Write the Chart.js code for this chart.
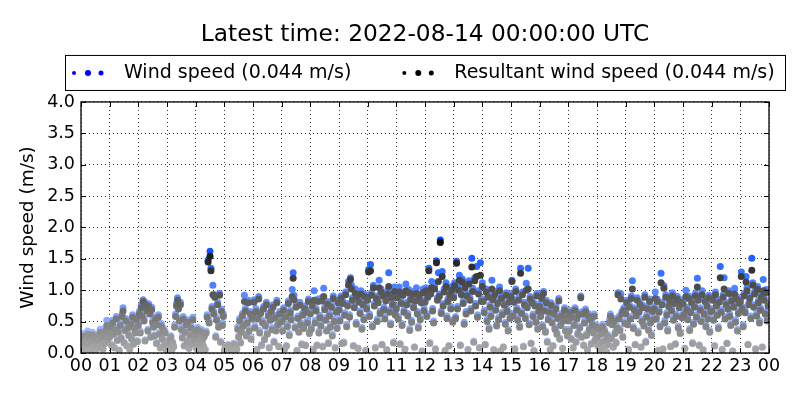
<!DOCTYPE html>
<html>
<head>
<meta charset="utf-8">
<script src="https://cdn.jsdelivr.net/npm/chart.js@4.4.0/dist/chart.umd.min.js"></script>
<style>
    html, body { margin: 0; padding: 0; background: #fff; }
</style>
</head>
<body>
<canvas id="wind-chart" width="800" height="400"></canvas>
<script>
// Wind speed scatter, one sample every 2 minutes

const titleText = 'Latest time: 2022-08-14 00:00:00 UTC';
const seriesNames = ['Wind speed (0.044 m/s)', 'Resultant wind speed (0.044 m/s)'];
const legendColors = ['#0000ff', '#000000'];
const yAxisTitle = 'Wind speed (m/s)';
const stepMinutes = 2;
const hourLabels = ['00', '01', '02', '03', '04', '05', '06', '07', '08', '09', '10', '11',
    '12', '13', '14', '15', '16', '17', '18', '19', '20', '21', '22', '23', '00'];
const yTickValues = [0, 0.5, 1.0, 1.5, 2.0, 2.5, 3.0, 3.5, 4.0];

// m/s, one row per hour
const windSpeed = [
    0.12,0.25,0.08,0.31,0.18,0.04,0.22,0.35,0.15,0.27,0.06,0.19,0.33,0.11,0.24,0.02,0.29,0.16,0.09,0.21,0.38,0.13,0.28,0.07,0.32,0.17,0.41,0.52,0.24,0.36,
    0.28,0.45,0.14,0.52,0.33,0.09,0.41,0.58,0.22,0.36,0.05,0.48,0.26,0.62,0.72,0.18,0.39,0.55,0.12,0.44,0.31,0.07,0.50,0.24,0.61,0.16,0.43,0.35,0.57,0.20,
    0.48,0.66,0.35,0.76,0.62,0.85,0.55,0.21,0.80,0.71,0.38,0.78,0.66,0.27,0.73,0.52,0.44,0.29,0.58,0.17,0.49,0.61,0.33,0.09,0.47,0.24,0.40,0.13,0.35,0.06,
    0.14,0.05,0.22,0.09,0.28,0.03,0.18,0.11,0.45,0.62,0.79,0.88,0.74,0.55,0.81,0.41,0.27,0.58,0.12,0.36,0.49,0.20,0.53,0.08,0.31,0.44,0.16,0.57,0.25,0.39,
    0.32,0.08,0.41,0.17,0.26,0.04,0.38,0.21,0.12,0.29,0.06,0.35,0.61,1.48,0.52,1.62,1.35,0.74,1.08,0.66,0.93,0.28,0.56,0.81,0.45,0.95,0.19,0.70,0.48,0.62,
    0.05,0.11,0.02,0.08,0.14,0.03,0.06,0.12,0.01,0.09,0.16,0.04,0.13,0.07,0.42,0.28,0.55,0.18,0.36,0.63,0.47,0.92,0.71,0.30,0.52,0.84,0.39,0.66,0.25,0.58,
    0.62,0.85,0.44,0.71,0.06,0.58,0.90,0.36,0.67,0.14,0.52,0.74,0.23,0.47,0.81,0.33,0.63,0.09,0.56,0.70,0.41,0.77,0.19,0.60,0.38,0.84,0.49,0.11,0.66,0.53,
    0.54,0.38,0.72,0.07,0.61,0.12,0.46,0.83,0.31,0.68,0.57,1.01,1.28,0.92,0.43,0.77,0.04,0.59,0.36,0.81,0.49,0.15,0.64,0.42,0.75,0.13,0.69,0.52,0.86,0.34,
    0.66,0.41,0.79,0.05,0.99,0.52,0.71,0.13,0.86,0.35,0.60,0.47,0.88,0.11,1.03,0.73,0.56,0.38,0.82,0.17,0.63,0.45,0.77,0.30,0.91,0.54,0.09,0.69,0.42,0.84,
    0.72,0.55,0.91,0.16,0.83,0.18,0.64,0.97,0.46,0.79,1.14,0.61,1.20,1.08,0.88,0.12,0.76,1.02,0.49,0.93,0.08,0.85,0.67,0.99,0.41,0.81,0.57,0.94,0.04,0.74,
    0.88,1.33,0.62,1.41,0.96,0.45,1.08,0.79,0.09,0.91,0.54,0.84,1.16,0.67,1.02,0.14,0.95,0.73,0.58,0.87,0.05,0.99,1.28,0.69,0.48,0.92,0.81,0.18,1.05,0.64,
    0.74,0.92,0.58,1.05,0.15,0.83,0.47,0.96,0.69,0.06,1.10,0.81,0.63,1.01,0.39,0.89,0.52,0.98,0.76,0.10,0.87,1.04,0.66,0.43,0.94,0.57,0.84,0.03,1.02,0.71,
    0.85,1.04,0.62,0.93,1.35,0.17,0.98,1.14,0.71,0.51,1.08,0.07,1.47,0.88,1.28,0.94,1.80,0.67,1.30,0.79,1.02,0.04,1.12,0.59,0.86,0.12,0.97,0.74,1.06,0.53,
    0.92,1.12,0.58,1.46,0.74,1.05,1.24,0.13,0.97,1.18,0.83,0.49,1.09,0.66,0.95,0.06,1.15,0.88,0.71,1.51,1.03,0.19,1.20,0.79,1.38,0.61,0.99,0.09,1.44,0.86,
    1.12,0.86,0.68,0.14,1.02,0.54,0.93,0.41,0.77,0.62,1.16,0.89,0.05,0.98,0.72,0.46,0.83,0.57,1.05,0.03,0.91,0.65,0.10,0.80,0.49,0.96,0.70,0.38,0.85,0.59,
    0.94,1.16,0.63,0.85,0.07,1.02,0.72,0.56,0.88,0.44,1.35,0.67,0.97,0.11,0.81,0.59,1.11,0.76,1.35,0.48,0.90,0.16,0.84,0.62,0.04,0.79,0.53,0.95,0.41,0.70,
    0.78,0.62,0.91,0.45,0.98,0.71,0.36,0.84,0.19,0.57,0.69,0.05,0.80,0.52,0.12,0.66,0.41,0.74,0.33,0.59,0.87,0.24,0.47,0.63,0.08,0.55,0.72,0.38,0.61,0.30,
    0.55,0.38,0.68,0.24,0.61,0.09,0.47,0.72,0.19,0.58,0.33,0.65,0.43,0.91,0.27,0.66,0.13,0.52,0.70,0.31,0.06,0.63,0.40,0.57,0.16,0.49,0.35,0.62,0.22,0.45,
    0.28,0.12,0.41,0.05,0.33,0.19,0.46,0.08,0.37,0.22,0.02,0.30,0.14,0.52,0.62,0.25,0.49,0.10,0.55,0.34,0.18,0.43,0.96,0.58,0.39,0.94,0.66,0.27,0.72,0.51,
    0.66,0.84,0.49,0.06,0.77,0.58,0.91,1.15,0.42,0.72,0.14,0.63,0.88,0.35,0.69,0.81,0.10,0.54,0.76,0.46,0.93,0.19,0.61,0.74,0.39,0.86,0.52,0.31,0.70,0.57,
    0.74,0.97,0.58,0.86,0.04,0.69,0.45,1.27,0.81,0.07,1.07,0.52,0.93,0.64,0.38,0.78,0.88,0.11,0.71,0.96,0.56,0.83,0.15,0.62,0.90,0.43,0.76,0.34,0.85,0.60,
    0.82,0.65,0.08,1.00,0.73,0.57,0.91,0.39,0.68,0.84,0.17,0.49,0.77,0.95,0.61,1.19,0.88,0.13,0.72,0.54,0.99,0.05,0.66,0.86,0.45,0.79,0.58,0.92,0.36,0.70,
    0.71,0.88,0.56,0.12,0.97,0.79,0.64,0.42,0.85,1.38,0.69,0.06,0.93,1.20,0.58,0.81,0.16,0.74,0.99,0.62,0.47,0.87,0.03,0.77,1.03,0.53,0.90,0.38,0.67,0.83,
    0.86,1.29,0.74,0.45,0.95,0.68,1.22,1.04,0.14,0.81,0.91,0.59,1.51,1.12,0.77,0.98,0.07,0.63,1.06,0.84,0.52,0.72,0.93,0.10,1.17,0.88,0.66,1.01,0.55,0.79,
];

const resultantSpeed = [
    0.10,0.22,0.07,0.27,0.15,0.03,0.20,0.30,0.13,0.24,0.05,0.17,0.29,0.09,0.21,0.02,0.26,0.14,0.08,0.19,0.33,0.11,0.25,0.06,0.28,0.15,0.36,0.44,0.21,0.32,
    0.25,0.41,0.12,0.48,0.30,0.08,0.37,0.54,0.20,0.33,0.04,0.44,0.23,0.58,0.67,0.16,0.36,0.51,0.11,0.40,0.28,0.06,0.46,0.22,0.57,0.14,0.39,0.32,0.53,0.18,
    0.44,0.62,0.32,0.72,0.58,0.82,0.51,0.19,0.76,0.67,0.35,0.74,0.62,0.25,0.69,0.48,0.41,0.27,0.54,0.15,0.45,0.57,0.30,0.08,0.43,0.22,0.37,0.12,0.32,0.05,
    0.12,0.04,0.19,0.08,0.25,0.03,0.16,0.10,0.41,0.58,0.75,0.84,0.70,0.51,0.77,0.37,0.24,0.54,0.11,0.33,0.45,0.18,0.49,0.07,0.28,0.40,0.14,0.53,0.22,0.35,
    0.29,0.07,0.37,0.15,0.23,0.03,0.34,0.19,0.11,0.26,0.05,0.32,0.57,1.45,0.48,1.54,1.31,0.70,0.93,0.62,0.89,0.25,0.52,0.77,0.41,0.92,0.17,0.66,0.44,0.58,
    0.04,0.09,0.02,0.07,0.12,0.02,0.05,0.10,0.01,0.08,0.14,0.03,0.11,0.06,0.38,0.25,0.51,0.16,0.33,0.59,0.43,0.82,0.67,0.27,0.48,0.80,0.35,0.62,0.22,0.54,
    0.58,0.81,0.40,0.66,0.05,0.54,0.86,0.32,0.63,0.12,0.48,0.70,0.21,0.43,0.77,0.30,0.59,0.08,0.52,0.66,0.37,0.73,0.17,0.56,0.35,0.80,0.45,0.10,0.62,0.49,
    0.50,0.35,0.68,0.06,0.57,0.11,0.42,0.79,0.28,0.64,0.53,0.90,1.19,0.85,0.40,0.73,0.04,0.55,0.33,0.76,0.45,0.13,0.60,0.39,0.71,0.12,0.65,0.48,0.82,0.31,
    0.62,0.38,0.75,0.05,0.84,0.48,0.67,0.12,0.82,0.32,0.56,0.43,0.83,0.10,0.90,0.69,0.52,0.35,0.78,0.15,0.59,0.41,0.73,0.27,0.87,0.50,0.08,0.65,0.39,0.80,
    0.68,0.51,0.87,0.15,0.79,0.16,0.60,0.93,0.42,0.75,1.08,0.57,1.17,1.02,0.84,0.11,0.72,0.95,0.46,0.89,0.07,0.81,0.63,0.94,0.38,0.77,0.53,0.90,0.04,0.70,
    0.84,1.29,0.58,1.31,0.92,0.42,1.04,0.75,0.08,0.87,0.50,0.80,1.04,0.63,0.97,0.13,0.91,0.69,0.54,0.83,0.05,0.94,1.06,0.65,0.45,0.88,0.77,0.16,0.98,0.60,
    0.70,0.88,0.54,0.97,0.14,0.79,0.44,0.92,0.65,0.06,0.99,0.77,0.59,0.96,0.36,0.85,0.49,0.94,0.72,0.09,0.83,0.95,0.62,0.40,0.90,0.53,0.80,0.03,0.96,0.67,
    0.81,0.99,0.58,0.89,1.31,0.15,0.94,1.04,0.67,0.48,1.02,0.06,1.44,0.84,1.14,0.90,1.76,0.63,1.22,0.75,0.97,0.04,1.06,0.55,0.82,0.11,0.92,0.70,1.00,0.49,
    0.88,1.07,0.55,1.43,0.70,1.00,1.16,0.12,0.93,1.13,0.79,0.46,1.04,0.62,0.91,0.05,1.10,0.84,0.67,1.37,0.98,0.17,1.15,0.75,1.22,0.57,0.94,0.08,1.24,0.82,
    1.06,0.82,0.64,0.13,0.97,0.50,0.89,0.38,0.73,0.58,1.02,0.85,0.05,0.93,0.68,0.43,0.79,0.53,0.99,0.03,0.87,0.61,0.09,0.76,0.46,0.92,0.66,0.35,0.81,0.55,
    0.90,1.14,0.59,0.81,0.06,0.98,0.68,0.52,0.84,0.41,1.27,0.63,0.93,0.10,0.77,0.55,1.00,0.72,1.02,0.45,0.86,0.15,0.80,0.58,0.04,0.75,0.49,0.91,0.38,0.66,
    0.74,0.58,0.87,0.42,0.95,0.67,0.33,0.80,0.17,0.53,0.65,0.05,0.76,0.48,0.11,0.62,0.38,0.70,0.30,0.55,0.83,0.22,0.44,0.59,0.07,0.51,0.68,0.35,0.57,0.27,
    0.51,0.35,0.64,0.22,0.57,0.08,0.44,0.68,0.17,0.54,0.30,0.61,0.40,0.88,0.25,0.62,0.12,0.48,0.66,0.28,0.05,0.59,0.37,0.53,0.14,0.45,0.32,0.58,0.20,0.42,
    0.25,0.11,0.38,0.04,0.30,0.17,0.42,0.07,0.34,0.20,0.02,0.27,0.13,0.48,0.58,0.23,0.45,0.09,0.51,0.31,0.16,0.40,0.93,0.54,0.36,0.86,0.62,0.25,0.68,0.47,
    0.62,0.80,0.45,0.05,0.73,0.54,0.87,1.02,0.39,0.68,0.13,0.59,0.84,0.32,0.65,0.77,0.09,0.50,0.72,0.43,0.89,0.17,0.57,0.70,0.36,0.82,0.48,0.28,0.66,0.53,
    0.70,0.87,0.54,0.82,0.04,0.65,0.42,1.12,0.77,0.06,1.03,0.48,0.89,0.60,0.35,0.74,0.84,0.10,0.67,0.91,0.52,0.79,0.14,0.58,0.86,0.40,0.72,0.31,0.81,0.56,
    0.78,0.61,0.07,0.90,0.69,0.53,0.87,0.36,0.64,0.80,0.15,0.46,0.73,0.91,0.57,1.05,0.84,0.12,0.68,0.50,0.93,0.05,0.62,0.82,0.42,0.75,0.54,0.88,0.33,0.66,
    0.67,0.84,0.52,0.11,0.93,0.75,0.60,0.39,0.81,1.20,0.65,0.05,0.89,1.02,0.54,0.77,0.15,0.70,0.95,0.58,0.44,0.83,0.03,0.73,0.94,0.49,0.86,0.35,0.63,0.79,
    0.82,1.22,0.70,0.42,0.91,0.64,1.13,0.99,0.13,0.77,0.87,0.55,1.32,1.08,0.73,0.94,0.06,0.59,1.01,0.80,0.48,0.68,0.89,0.09,0.99,0.84,0.62,0.96,0.51,0.75,
];

const FONT = "'DejaVu Sans', sans-serif";

function toPoints(values) {
    return values.map((v, i) => ({ x: i * stepMinutes / 60, y: v }));
}

// faster points get a stronger colour
function windShade(v) {
    const t = Math.min(Math.max(v / 1.8, 0), 1);
    return `rgb(${Math.round(190 - 190 * t)},${Math.round(212 - 140 * t)},255)`;
}

function resultantShade(v) {
    const g = Math.round(Math.max(12, 172 - 92 * v));
    return `rgb(${g},${g},${g})`;
}

// frame, inward ticks and the boxed legend on top of the plot
const framePlugin = {
    id: 'frameAndLegend',
    afterDraw(chart) {
        const { ctx, chartArea: a, scales } = chart;
        ctx.save();
        ctx.strokeStyle = '#000';
        ctx.lineWidth = 1;
        ctx.beginPath();
        scales.x.ticks.forEach(t => {
            const px = Math.round(scales.x.getPixelForValue(t.value)) + 0.5;
            ctx.moveTo(px, a.bottom); ctx.lineTo(px, a.bottom - 5);
            ctx.moveTo(px, a.top); ctx.lineTo(px, a.top + 5);
        });
        scales.y.ticks.forEach(t => {
            const py = Math.round(scales.y.getPixelForValue(t.value)) + 0.5;
            ctx.moveTo(a.left, py); ctx.lineTo(a.left + 5, py);
            ctx.moveTo(a.right, py); ctx.lineTo(a.right - 5, py);
        });
        ctx.stroke();
        ctx.lineWidth = 1.3;
        ctx.strokeRect(a.left, a.top, a.right - a.left, a.bottom - a.top);

        const bx = a.left - 16, by = a.top - 47;
        ctx.lineWidth = 1;
        ctx.strokeRect(bx + 0.5, by + 0.5, a.right - a.left + 32, 35);
        ctx.font = `19px ${FONT}`;
        ctx.textBaseline = 'middle';
        const cy = by + 18;
        let x = bx + 9;
        seriesNames.forEach((name, i) => {
            ctx.fillStyle = legendColors[i];
            [[0, 2], [14, 3], [27, 2.5]].forEach(([dx, r]) => {
                ctx.beginPath();
                ctx.arc(x + dx, cy, r, 0, Math.PI * 2);
                ctx.fill();
            });
            ctx.fillStyle = '#000';
            ctx.fillText(name, x + 50, cy);
            x += 50 + ctx.measureText(name).width + 53;
        });
        ctx.restore();
    },
};

const gridStyle = { color: '#000', lineWidth: 0.8, drawTicks: false };
const dotted = { display: false, dash: [1, 3] };

new Chart(document.getElementById('wind-chart'), {
    type: 'scatter',
    data: {
        datasets: [
            {
                label: seriesNames[0],
                data: toPoints(windSpeed),
                order: 1,
                backgroundColor: c => windShade(c.raw ? c.raw.y : 0),
                borderWidth: 0,
                pointRadius: 3.5,
                clip: 0,
            },
            {
                label: seriesNames[1],
                data: toPoints(resultantSpeed),
                order: 0,
                backgroundColor: c => resultantShade(c.raw ? c.raw.y : 0),
                borderWidth: 0,
                pointRadius: 3.5,
                clip: 0,
            },
        ],
    },
    options: {
        responsive: false,
        animation: false,
        devicePixelRatio: 1,
        layout: { padding: 0 },
        plugins: {
            legend: { display: false },
            tooltip: { enabled: false },
            title: {
                display: true,
                text: titleText,
                fullSize: false,
                color: '#000',
                font: { family: FONT, size: 23.3, weight: 'normal' },
                padding: { top: 21, bottom: 53 },
            },
        },
        scales: {
            x: {
                type: 'linear',
                min: 0,
                max: 24,
                afterBuildTicks: s => { s.ticks = hourLabels.map((_, i) => ({ value: i })); },
                afterFit: s => { s.height = 47; },
                ticks: {
                    autoSkip: false,
                    maxRotation: 0,
                    padding: 3,
                    color: '#000',
                    font: { family: FONT, size: 17.5 },
                    callback: (v, i) => hourLabels[i],
                },
                grid: gridStyle,
                border: dotted,
            },
            y: {
                min: 0,
                max: 4,
                afterBuildTicks: s => { s.ticks = yTickValues.map(v => ({ value: v })); },
                afterFit: s => { s.width = 81; },
                ticks: {
                    padding: 6,
                    color: '#000',
                    font: { family: FONT, size: 17.5 },
                    callback: v => v.toFixed(1),
                },
                title: {
                    display: true,
                    text: yAxisTitle,
                    color: '#000',
                    font: { family: FONT, size: 18.5 },
                    padding: { top: 17, bottom: 0 },
                },
                grid: gridStyle,
                border: dotted,
            },
            y2: {
                position: 'right',
                min: 0,
                max: 4,
                afterFit: s => { s.width = 31; },
                ticks: { display: false },
                grid: { display: false },
                border: { display: false },
            },
        },
    },
    plugins: [framePlugin],
});
</script>
</body>
</html>
